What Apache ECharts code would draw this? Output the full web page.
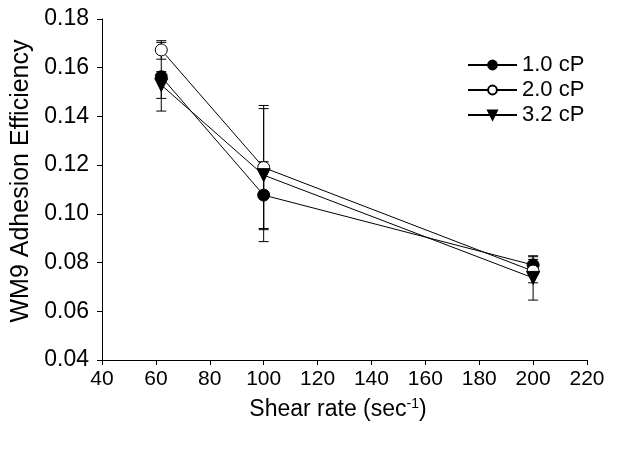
<!DOCTYPE html>
<html><head><meta charset="utf-8">
<script src="https://cdn.jsdelivr.net/npm/echarts@6/dist/echarts.min.js"></script>
<style>html,body{margin:0;padding:0;background:#fff}#c{width:617px;height:450px}</style>
</head><body><div id="c"></div>
<script>
const shearRates = [62, 100, 200];
const seriesNames = ['1.0 cP', '2.0 cP', '3.2 cP'];
const mean10 = [0.1563, 0.1077, 0.0790];
const err10  = [0.0141, 0.0137, 0.0034];
const mean20 = [0.1673, 0.1190, 0.0765];
const err20  = [0.0038, 0.0255, 0.0048];
const mean32 = [0.1529, 0.1159, 0.0737];
const err32  = [0.0055, 0.0273, 0.0091];
const xTicks = [40, 220, 20];
const yTicks = [0.04, 0.18, 0.02];

const FONT = 'Liberation Sans, Arial, sans-serif';
const chart = echarts.init(document.getElementById('c'), null, {renderer: 'canvas'});

function pts(m) { return shearRates.map((x, i) => [x, m[i]]); }
function errData(m, e) { return shearRates.map((x, i) => [x, m[i] - e[i], m[i] + e[i]]); }
function errSeries(m, e) {
  return {
    type: 'custom', silent: true, z: 1,
    data: errData(m, e),
    renderItem: function (params, api) {
      const x = api.value(0);
      const lo = api.coord([x, api.value(1)]);
      const hi = api.coord([x, api.value(2)]);
      const w = 5;
      const st = {stroke: '#000', lineWidth: 1};
      return {type: 'group', children: [
        {type: 'line', shape: {x1: lo[0], y1: lo[1], x2: hi[0], y2: hi[1]}, style: st},
        {type: 'line', shape: {x1: lo[0]-w, y1: lo[1], x2: lo[0]+w, y2: lo[1]}, style: st},
        {type: 'line', shape: {x1: hi[0]-w, y1: hi[1], x2: hi[0]+w, y2: hi[1]}, style: st}
      ]};
    }
  };
}
function lineSeries(name, m, symbol, fill, rot) {
  return {
    name: name, type: 'line', data: pts(m), z: 3,
    symbol: symbol, symbolSize: symbol === 'triangle' ? 13 : 12, symbolRotate: rot || 0,
    showAllSymbol: true,
    lineStyle: {color: '#000', width: 1},
    itemStyle: {color: fill, borderColor: '#000', borderWidth: 1},
    emphasis: {disabled: true}, animation: false
  };
}

chart.setOption({
  animation: false,
  grid: {left: 102, right: 30, top: 19, bottom: 90, containLabel: false},
  legend: {
    orient: 'vertical', left: 462, top: 49,
    itemWidth: 49, itemHeight: 11, itemGap: 3,
    textStyle: {fontFamily: FONT, fontSize: 22, color: '#000', padding: [0, 0, 0, 0]},
    data: seriesNames
  },
  xAxis: {
    type: 'value', min: xTicks[0], max: xTicks[1], interval: xTicks[2],
    axisLine: {lineStyle: {color: '#000', width: 1}},
    axisTick: {inside: false, length: 5, lineStyle: {color: '#000'}},
    axisLabel: {fontFamily: FONT, fontSize: 21, color: '#000', margin: 9},
    splitLine: {show: false},
    name: 'Shear rate (sec{sup|-1})',
    nameLocation: 'middle', nameGap: 37,
    nameTextStyle: {fontFamily: FONT, fontSize: 23, color: '#000', padding: [0, 13, 0, 0],
      rich: {sup: {fontFamily: FONT, fontSize: 14, color: '#000', padding: [0, 0, 12, 0]}}}
  },
  yAxis: {
    type: 'value', min: yTicks[0], max: yTicks[1], interval: yTicks[2],
    axisLine: {show: true, lineStyle: {color: '#000', width: 1}},
    axisTick: {show: true, inside: false, length: 5, lineStyle: {color: '#000'}},
    axisLabel: {fontFamily: FONT, fontSize: 23, color: '#000', margin: 13,
      formatter: v => v.toFixed(2)},
    splitLine: {show: false},
    name: 'WM9 Adhesion Efficiency',
    nameLocation: 'middle', nameGap: 68,
    nameTextStyle: {fontFamily: FONT, fontSize: 25, color: '#000', padding: [0, 0, 0, 17]}
  },
  series: [
    errSeries(mean10, err10), errSeries(mean20, err20), errSeries(mean32, err32),
    lineSeries(seriesNames[0], mean10, 'circle', '#000'),
    lineSeries(seriesNames[1], mean20, 'circle', '#fff'),
    lineSeries(seriesNames[2], mean32, 'triangle', '#000', 180)
  ]
});
</script></body></html>
